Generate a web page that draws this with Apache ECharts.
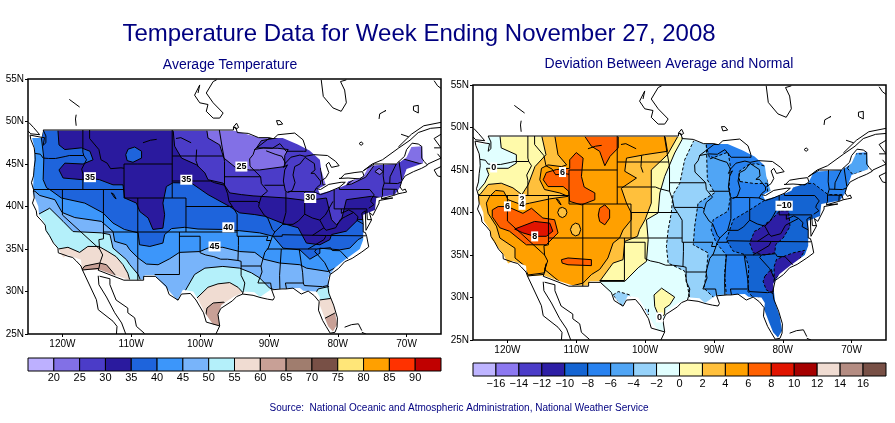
<!DOCTYPE html>
<html>
<head>
<meta charset="utf-8">
<style>html,body{margin:0;padding:0;background:#fff}#chart{width:895px;height:423px}</style>
<script src="https://cdn.jsdelivr.net/npm/echarts@6/dist/echarts.min.js"></script>
</head>
<body>
<div id="chart"></div>
<script>
// ---- axes and colour bars
var lonTicks = [-120, -110, -100, -90, -80, -70];
var avgLevels = [15, 20, 25, 30, 35, 40, 45, 50, 55, 60, 65, 70, 75, 80, 85, 90, 95];
var devLevels = [-18, -16, -14, -12, -10, -8, -6, -4, -2, 0, 2, 4, 6, 8, 10, 12, 14, 16, 18];
var avgColors = ['#bdb0ff', '#8270e6', '#4b3cc8', '#2a1a9e', '#1e64dc', '#3c96fa', '#78b4fa', '#b4f0fa', '#f0dcd2', '#c8a096', '#a07d6e', '#785046', '#ffe678', '#ffa000', '#ff3200', '#c00000'];
var devColors = ['#beb4ff', '#8c78f0', '#4b3cc8', '#2d1ea5', '#1464d2', '#2882f0', '#50a5f5', '#96d2fa', '#e1ffff', '#fffaaa', '#ffc03c', '#ffa000', '#ff6000', '#e11400', '#a50000', '#f0dcd2', '#b48c82', '#785046'];

// ---- land outline of the data grid, lon/lat, running counter-clockwise
var landEdge = [[-122.8,48.95],[-123.05,48.05],[-124.4,48.05],[-124,46.7],[-124.2,43.15],[-124.3,41.6],[-123.5,40],[-123.4,39],[-122.6,38.05],[-122.3,36.9],[-120.6,35.1],[-119.9,34],[-119.2,34.3],[-117.3,33.74],[-117.15,32.5],[-114.7,32.6],[-112.4,31.9],[-110.5,31.4],[-108.3,31.4],[-108.05,31.9],[-106.6,31.9],[-104.65,30.2],[-103.3,28.95],[-102.5,30.2],[-101,30],[-100.3,29.1],[-99.3,27.5],[-98.1,26.1],[-97.2,26],[-97.4,27.3],[-96.9,28.4],[-95.2,29.35],[-93.5,30],[-92.1,29.9],[-91.3,29.35],[-89.6,30.3],[-85.5,30.4],[-85,30.1],[-83.1,30],[-82.6,29.35],[-82.7,28.6],[-81.9,26.9],[-81.4,25.9],[-80.7,25.3],[-80.1,26.1],[-80.45,27.85],[-81.1,29.35],[-81.25,30.5],[-81.4,31.6],[-80.45,32.76],[-79,33.7],[-78,34.3],[-76.8,35],[-76.3,36.1],[-76.3,39.03],[-74.6,39.6],[-74.4,41],[-71.7,41.4],[-71,42.2],[-70.75,42.75],[-70,44.4],[-67.6,45.1],[-67.75,47.1],[-69.3,47],[-70,45.8],[-71,45.2],[-71.5,45],[-75.45,44.8],[-76.3,43.5],[-78.5,42.95],[-78.75,42.55],[-80.4,42],[-82.6,41.5],[-82.9,42.05],[-81.75,42.55],[-82.4,44.3],[-82.6,45.5],[-84.1,46.6],[-85.8,47.3],[-88,48.05],[-91.3,48.05],[-92.8,48.4],[-95,48.9],[-122.8,48.95]];

// ---- coasts, lakes
var coastLines = [
  [[-122.8,49],[-122.4,48.3],[-122.4,47.5],[-122.8,47.2],[-122.6,48.1],[-123.1,48.15],[-124.7,48.4],[-124.6,47.9],[-124.1,46.9],[-124,46.2],[-123.95,45.5],[-124.1,44.6],[-124.2,43.6],[-124.5,42.8],[-124.2,42],[-124.1,41],[-124.35,40.4],[-123.8,39.5],[-123.7,38.9],[-123,38.3],[-122.5,37.8],[-122.4,37.2],[-121.9,36.6],[-121.3,35.7],[-120.65,35.1],[-120.6,34.55],[-119.2,34.15],[-118.5,34],[-118,33.6],[-117.3,33],[-117.1,32.55],[-115.06,29.03],[-114.8,27.86],[-112.65,26.5],[-112.07,25.9],[-112.15,25]],
  [[-124.9,49.9],[-124.2,49.3],[-123.3,48.45],[-124.6,48.55],[-125,48.9]],
  [[-114.8,31.85],[-114.7,30.8],[-113.6,29.35],[-112.4,27.5],[-111.4,26.3],[-110.8,25]],
  [[-114.6,31.8],[-113.1,31.5],[-113.1,30.8],[-112.2,29],[-110.5,28.05],[-110.5,27.5],[-109.5,26.9],[-109.25,25.9],[-108.05,25.05]],
  [[-97.7,25],[-97.15,25.95],[-97.4,27.3],[-97,28],[-95.3,28.9],[-94.7,29.4],[-93.8,29.7],[-92.3,29.55],[-91.3,29.3],[-90.2,29.1],[-89.4,29],[-89.2,29.3],[-89.6,30.2],[-88.1,30.3],[-87.5,30.3],[-86.5,30.4],[-85.3,29.7],[-84.3,30.05],[-83.4,29.5],[-82.7,28.8],[-82.8,27.8],[-82.2,26.6],[-81.7,25.9],[-81.1,25.1],[-80.4,25.2],[-80.1,25.8],[-80.05,26.9],[-80.6,28.4],[-81.3,29.8],[-81.45,30.7],[-81.1,32],[-79.9,32.7],[-79,33.5],[-77.9,33.9],[-76.5,34.65],[-75.5,35.25],[-75.8,36.5],[-76,36.95],[-76.3,37],[-76.3,38],[-76.5,39.2],[-76,39.5],[-75.9,37.2],[-75.1,38.4],[-75.4,39.3],[-74.9,38.95],[-74,40.4],[-74,40.7],[-72,41],[-73.7,40.9],[-71.9,41.3],[-71.2,41.5],[-70.6,41.6],[-70,41.7],[-70.2,42.05],[-70.6,41.9],[-70.95,42.3],[-70.7,43],[-70.2,43.6],[-69,44.1],[-67.8,44.5],[-67,44.85],[-66.9,45],[-65,45.7],[-65.5,46.2]],
  [[-92.1,46.7],[-90,48],[-89.3,48],[-88.7,48.44],[-86.25,48.64],[-85.05,47.85],[-84.65,46.87],[-84.6,46.5],[-85,46.5],[-86.5,46.5],[-87.5,46.5],[-87.9,46.9],[-88.4,47.4],[-89.5,46.85],[-90.8,46.9],[-92.1,46.7]],
  [[-84.75,45.78],[-83.4,45.05],[-83.3,44.3],[-83.9,43.9],[-83.4,43.9],[-82.5,43],[-82.5,42.6],[-83.1,42.2],[-83.45,41.7],[-82.5,41.4],[-81.4,41.7],[-79.8,42.25],[-78.9,42.85],[-79.5,42.85],[-81.3,42.6],[-82.5,42],[-83.1,42.1]],
  [[-84.75,45.78],[-85.5,45],[-86.25,44.7],[-86.5,43.7],[-86.2,42.8],[-86.6,41.9],[-87.2,41.65],[-87.6,41.8],[-87.9,43],[-87.7,44.3],[-87.3,44.9],[-87.9,44.6],[-87.6,45.1],[-86.8,45.8],[-85.5,46.05],[-84.75,45.9],[-83.5,46.1],[-81.5,46],[-80.3,45.3],[-79.8,44.8],[-80.9,44.6],[-81.3,45.2],[-81.7,44.9],[-81.3,44],[-81.7,43.4],[-82.4,43]],
  [[-79.8,43.3],[-78.5,43.35],[-76.8,43.25],[-76.2,43.6],[-76.4,44.1],[-77.5,44],[-79,43.8],[-79.6,43.3],[-79.8,43.3]],
  [[-76.3,44.2],[-75,45],[-73.5,45.5],[-71.2,46.85],[-69.5,47.8],[-68.3,48.7],[-66.5,49.2],[-65,49.3]],
  [[-71.2,47],[-69.3,48.5],[-67.5,49.5],[-65,49.9]],
  [[-70.8,48.5],[-69.7,48.2]],
  [[-66,46.9],[-65,46.9],[-66,48],[-65,48.5]],
  [[-65,44.7],[-66,44.3],[-65.5,43.6],[-65,43.5]],
  [[-82.4,54.9],[-82.1,52.95],[-80.7,51.6],[-79.5,51.2],[-78.75,52.2],[-79,53.7],[-79.6,54.7],[-78.75,54.9]],
  [[-97.6,54.9],[-98.1,54.7],[-99.1,53.35],[-98.1,52.2],[-96.65,51],[-97.15,50.4],[-98.1,50.4],[-99.1,51.2],[-98.85,52],[-100.05,52.2],[-100.8,53.1],[-100.05,54.3],[-100.3,53.35]],
  [[-119,52.6],[-117.5,51.7]],
  [[-118,50.8],[-118.1,50.3],[-118,49.5]],
  [[-108.3,47.5],[-107.2,47.8],[-106.3,47.9]],
  [[-103.5,48],[-102.8,48.1],[-101.3,47.5]],
  [[-100.5,46.7],[-100.6,45.4],[-100.3,44.7]],
  [[-112.9,41.6],[-112.4,41],[-112.2,40.9],[-112.6,41.5],[-112.9,41.6]],
  [[-95.1,49.4],[-94.7,49.8],[-94.4,49.3],[-94.8,49.1],[-95.1,49.4]],
  [[-88.9,50.1],[-88.4,50.1],[-88,49.7],[-88.7,49.6],[-88.9,50.1]],
  [[-76.6,47.6],[-76.3,47.4],[-76.6,47.2],[-76.9,47.4],[-76.6,47.6]],
  [[-74,50.3],[-73.9,50.9],[-73,51.3],[-73.2,51.2]],
  [[-69,51.8],[-68.3,51.9],[-68.3,51],[-69,51.3],[-69,51.8]],
  [[-79,25.8],[-78,26.1],[-77,26.2],[-76.5,25.4]],
  [[-76.5,25.2],[-75.9,25]],
  [[-66,54.8],[-65.5,54.2],[-65,53.9]]
];

// ---- state and border lines
var stateLines = [
  [[-122.8,49],[-95.15,49],[-95.15,49.35],[-94.8,49.3],[-94.6,48.7],[-93,48.6],[-91.5,48.1],[-90,48.1],[-89.5,48]],
  [[-124,46.25],[-123.2,46.15],[-122.8,45.7],[-122,45.65],[-121,45.65],[-119.5,45.9],[-119,46],[-116.9,46]],
  [[-117.03,49],[-117.03,46.4],[-116.9,46],[-116.5,45.5],[-117.2,44.4],[-117.03,43.8],[-117.03,42]],
  [[-124.2,42],[-111.05,42]],
  [[-120,42],[-120,39],[-114.6,35],[-114.15,34.3],[-114.5,33.5],[-114.7,32.73]],
  [[-117.1,32.53],[-114.7,32.72],[-114.8,32.5],[-111.07,31.33],[-108.2,31.33],[-108.2,31.78],[-106.5,31.78],[-104.9,30.6],[-104.5,29.65],[-103.2,28.98],[-102.7,29.7],[-101.4,29.77],[-100.6,29],[-99.5,27.5],[-99.1,26.4],[-97.15,25.95]],
  [[-114.04,42],[-114.04,36.2],[-114.7,36.1],[-114.6,35]],
  [[-114.04,37],[-94.62,37]],
  [[-111.05,45],[-111.05,41],[-102.05,41]],
  [[-109.05,45],[-104.05,45]],
  [[-111.05,45],[-109.05,45]],
  [[-109.05,41],[-109.05,31.33]],
  [[-116.05,49],[-116.05,48],[-114.7,46.7],[-114.4,45.5],[-113.5,45.1],[-113,44.45],[-111.5,44.55],[-111.05,44.5]],
  [[-104.05,49],[-104.05,41]],
  [[-102.05,41],[-102.05,37]],
  [[-102.05,40],[-95.3,40]],
  [[-104.05,45.94],[-96.56,45.94]],
  [[-104.05,43],[-98.5,43],[-97.9,42.8],[-96.45,42.5]],
  [[-103,37],[-103,32],[-106.6,32]],
  [[-103,36.5],[-100,36.5],[-100,34.56],[-99.2,34.3],[-98,34.1],[-97,33.8],[-96,33.8],[-94.5,33.65],[-94.04,33.55],[-94.04,31.9],[-93.5,31],[-93.7,30.1],[-93.85,29.7]],
  [[-94.04,33],[-91.15,33]],
  [[-94.62,36.5],[-90.15,36.5],[-90.35,36],[-89.7,36]],
  [[-94.43,36.5],[-94.43,35.4],[-94.5,33.65]],
  [[-94.62,39.1],[-94.62,36.5]],
  [[-97.2,49],[-96.8,47],[-96.56,45.94],[-96.45,45.3],[-96.45,42.5],[-96,41.5],[-95.8,40.6],[-95.3,40],[-94.62,39.1]],
  [[-96.45,43.5],[-91.2,43.5]],
  [[-95.77,40.6],[-91.7,40.6],[-91.4,40.4]],
  [[-92.05,46.7],[-92.3,46.1],[-92.8,45.6],[-92.75,44.75],[-91.2,43.5],[-91.1,42.7],[-90.2,41.8],[-91.1,41.2],[-91.4,40.4],[-91.5,40],[-90.7,39],[-90.2,38.7],[-89.5,37.3],[-89.15,37],[-89.5,36.5],[-89.7,36],[-90.1,35.1],[-90.6,34.6],[-91.15,33],[-91,32.3],[-91.6,31],[-89.75,31],[-89.6,30.2]],
  [[-90.65,42.5],[-87.8,42.5]],
  [[-87.6,45.1],[-88.1,45.9],[-89.1,46.15],[-90.4,46.55]],
  [[-87.53,41.7],[-87.53,39.3],[-88,37.9]],
  [[-89.15,37],[-88,37.9],[-86.5,37.9],[-85.7,38.3],[-84.8,39.1],[-83.7,38.65],[-82.6,38.4],[-81.8,39],[-80.7,40.6]],
  [[-84.8,41.7],[-84.8,39.1]],
  [[-87.2,41.76],[-84.8,41.76],[-83.45,41.72]],
  [[-80.52,42],[-80.52,39.72],[-75.79,39.72]],
  [[-79.76,42.27],[-79.76,42],[-75.35,42],[-74.7,41.36],[-75.1,40.9],[-75.2,40.6],[-74.75,40.2],[-75.5,39.8]],
  [[-79.48,39.72],[-79.48,39.2],[-78.4,39.6],[-77.7,39.3],[-78.9,38.8],[-79.6,38.5],[-80.3,37.5],[-81.7,37.2],[-82,37.5],[-83.68,36.6]],
  [[-82.6,38.4],[-82,37.5]],
  [[-75.9,36.55],[-81.68,36.59],[-88.07,36.68],[-88.07,36.5],[-89.45,36.5]],
  [[-81.68,36.59],[-82,36.1],[-84.32,35]],
  [[-90.3,35],[-83.1,35],[-81.04,35.15],[-80.8,34.82],[-79.67,34.8],[-78.55,33.86]],
  [[-83.1,35],[-83.35,34.7],[-81.9,33.4],[-81.1,32.1]],
  [[-81.45,30.7],[-82.2,30.57],[-84.86,30.7],[-85,31],[-85.1,32.2],[-85.6,34.98]],
  [[-85,31],[-87.6,31],[-87.45,30.3]],
  [[-88.2,35],[-88.45,31.9],[-88.4,30.3]],
  [[-75.79,39.72],[-75.7,38.46],[-75.05,38.45]],
  [[-77.7,39.3],[-77.05,38.8],[-77.2,38.35],[-76.3,37.95]],
  [[-73.35,45],[-73.4,43.6],[-73.25,42.75],[-73.5,42.05],[-73.5,41.3],[-73.65,41]],
  [[-71.5,45],[-72.4,43.5],[-72.45,42.73]],
  [[-73.25,42.75],[-71.3,42.7],[-70.8,42.87]],
  [[-73.5,42.05],[-71.4,42.02],[-71.2,41.5]],
  [[-71.8,42],[-71.85,41.3]],
  [[-71.1,45.3],[-70.7,43.1]],
  [[-76.3,44.2],[-74.7,45],[-71.5,45],[-71.1,45.3],[-70.3,45.9],[-70,46.7],[-69.2,47.45],[-68.3,47.35],[-67.8,47.07],[-67.8,45.7],[-67.45,45.3],[-67,44.9]]
];

// ---- average temperature contour regions, lon/lat
var avgBase = [[-125,50],[-65,50],[-65,25],[-125,25]];
var avgWarmSW = [[-120.6,35],[-119.2,35.2],[-117.5,34.6],[-116.3,35.3],[-114.7,35.3],[-113.4,34.7],[-112.2,34.1],[-111.2,33.15],[-110.5,32.15],[-110.2,31.3],[-110.7,29.4],[-118,29.4],[-121.1,33.7]];
var avgHotSW = [[-117.15,32.6],[-116.75,33],[-114.6,33.35],[-113.6,33.15],[-112.4,32],[-112.4,30.2],[-117.2,30.2]];
var avgWarmTX = [[-100.5,29.2],[-98.85,30.5],[-97.4,30.9],[-95.7,31.05],[-94.5,30.5],[-93.7,29.8],[-94.3,28.2],[-96,26],[-100.5,26]];
var avgHotTX = [[-99.3,26.5],[-99,28.05],[-98.1,28.65],[-96.55,28.75],[-95.7,27.9],[-96,25.2],[-99,25.2]];
var avgWarmFL = [[-83.1,28.95],[-80.9,29.2],[-79,29.2],[-79,25],[-84,25]];
var avgHotFL = [[-82.1,26.75],[-80.45,27.45],[-79,27.45],[-79,25],[-82.1,25]];
var avgBelow50 = [[-125,39.05],[-123.55,39.05],[-121.85,39.8],[-119.9,38.25],[-118.45,37.05],[-114.35,36.9],[-113.1,36.7],[-112.65,35.1],[-110.7,33.75],[-110.2,33.15],[-109,32],[-108.5,31],[-104,28.5],[-102.5,29.6],[-100.8,32],[-99.3,32.75],[-96.7,32.95],[-94.25,32.75],[-92.55,32.2],[-91.35,31.6],[-89.9,30.4],[-88.4,30],[-83.35,29.6],[-82.85,30.3],[-81.2,30.6],[-77.8,30.6],[-66,30.6],[-66,49.5],[-125,49.5]];
var avgBelow45 = [[-125,41.8],[-124,41.8],[-123.3,41.3],[-121.1,40.8],[-120.05,39.3],[-118.2,38.7],[-114.35,38.25],[-112.65,37.05],[-112.4,35.9],[-110.7,35.5],[-110.2,34.9],[-109,33.94],[-107.8,33.23],[-106.1,33.15],[-104.4,33.86],[-103,34.6],[-100.05,34.7],[-98.6,35.2],[-96.7,35.2],[-94.25,34.7],[-92.05,34.6],[-90.75,33.8],[-88.45,33.35],[-85.5,33.15],[-84.55,32.75],[-81.4,32.35],[-80.45,32.75],[-78,32.7],[-66,32.7],[-66,49.5],[-125,49.5]];
var avgBelow40 = [[-122.8,49.5],[-122.8,49],[-123.05,48.05],[-122.7,45.7],[-122.8,43.15],[-122.3,42.2],[-121.85,42],[-120.15,41],[-116.75,40.4],[-114.1,39.25],[-112.65,38.05],[-111,37.3],[-109,36.9],[-108.8,35.5],[-107.3,35.3],[-105.4,35.7],[-105.15,36.7],[-104.15,37.4],[-102.25,37.55],[-100.3,37.35],[-96.7,37.3],[-94.25,37.15],[-91.35,36.9],[-89.4,36.5],[-87.95,35.1],[-85.5,34.9],[-84.05,33.8],[-82.6,34.5],[-82.6,35.1],[-79.7,34.9],[-78.25,35.1],[-77.05,36.1],[-75,37],[-66,37],[-66,49.5]];
var avgBelow35 = [[-120.65,49.5],[-120.65,48.95],[-120.5,47.25],[-119.65,46.7],[-117.25,46.9],[-116,46.5],[-115.55,45.5],[-117,45],[-119.65,45.1],[-120.5,44.3],[-119.9,43.35],[-117,43.15],[-116,43.35],[-114.6,43.15],[-112.65,42.55],[-111.2,42.55],[-110.95,41],[-109.25,40.4],[-108.75,39.4],[-107.55,38.65],[-106.85,37.3],[-105.4,37.45],[-105.15,39.03],[-105.4,40.4],[-104.9,42.35],[-103.9,42.8],[-101.25,42.75],[-98.85,41.4],[-95.7,40],[-94.25,39.25],[-92.05,39.05],[-90.6,38.85],[-87.95,38],[-85.75,37.5],[-84.55,35.7],[-82.6,35.5],[-81.15,36.1],[-80.9,36.7],[-78.75,37.1],[-77.05,38.45],[-75,38.5],[-66,38.5],[-66,49.5]];
var avgIsland40 = [[-110.8,46.1],[-110.45,46.75],[-109.5,47],[-108.5,46.5],[-108.5,45.7],[-109.75,45.2],[-110.6,45.4]];
var avgBelow30 = [[-103.9,49.5],[-103.9,48.85],[-103.7,47.1],[-102.7,45.7],[-100.5,44.9],[-99.3,43.95],[-98.85,43.15],[-96.65,42.75],[-95.7,41.6],[-94,41.4],[-92.3,41.25],[-87.45,41],[-84.55,40.7],[-81.65,41],[-81.25,39.6],[-80.9,38.45],[-80.2,37.85],[-79.45,38.45],[-78.75,40.8],[-75.1,41.2],[-73.4,41],[-66,41],[-66,49.5]];
var avgBelow25 = [[-99.1,49.4],[-98.85,48.05],[-97.15,47.25],[-96.55,45.7],[-94.7,44.5],[-92.8,44.3],[-91.35,44.3],[-87.7,44.7],[-87.7,46],[-87.2,46.7],[-88.7,46.85],[-91.8,46.9],[-91.1,47.75],[-88.7,48.1],[-88.7,49.4]];
var avgMaine25 = [[-70.5,45.6],[-69.55,47.25],[-67.1,47.25],[-67.1,44.9],[-68.1,45.05]];
var avgAdirondack25 = [[-74.6,44.1],[-74,44.5],[-73.4,44.1],[-73.9,43.75]];
var avgHuron25 = [[-82.5,44.5],[-81.65,44.5],[-81.65,42.55],[-82.15,42.55]];
var avgOntario25 = [[-78.75,42.55],[-76.3,43.95],[-75.35,45.1],[-74.75,44.8],[-75.95,43.45],[-78,42.65]];
// [colour box, region] painted in this order
var avgBands = [[7,avgBase],[8,avgWarmSW],[9,avgHotSW],[8,avgWarmTX],[9,avgHotTX],[8,avgWarmFL],[9,avgHotFL],[6,avgBelow50],[5,avgBelow45],[4,avgBelow40],[3,avgBelow35],[4,avgIsland40],[2,avgBelow30],[1,avgBelow25],[1,avgMaine25],[1,avgAdirondack25],[1,avgHuron25],[1,avgOntario25]];

// ---- deviation contour regions, lon/lat
var devBase = [[-125,50],[-65,50],[-65,25],[-125,25]];
var devAbove0 = [[-121.1,49.15],[-120.9,47.6],[-118.7,46.8],[-118.7,45.8],[-119.9,45.2],[-123.05,45.2],[-122.7,44.45],[-123.3,43.45],[-124.3,42.5],[-125,42.3],[-125,28],[-106,28],[-105.4,30.7],[-106.6,31.9],[-102.95,31.9],[-101,33.5],[-99.8,34.25],[-99.55,36.8],[-99.8,39.15],[-98.1,39.95],[-97.85,42.3],[-97.15,44.25],[-95.7,47],[-94.65,48.55],[-94.5,49.15]];
var devIslandTX = [[-98.7,30.3],[-97.6,31.1],[-97.15,30.85],[-95.7,30.05],[-96.4,29.15],[-97.15,28.75],[-97.15,28],[-97.9,27.6],[-98.6,28.95]];
var devAbove2 = [[-115.05,49.15],[-114.4,46.8],[-116,45.4],[-117,43.25],[-117.9,42.1],[-119.2,42.9],[-120.9,43.45],[-122.8,43.3],[-124,42.1],[-124.5,42.1],[-125,40],[-125,27],[-106.6,27],[-106.6,31.9],[-104.65,34.05],[-103.2,34.45],[-102.95,36.6],[-101.1,37.2],[-100.8,38],[-100,39.15],[-99.1,41.1],[-99.1,45],[-96.75,46.8],[-95.1,49.15]];
var devAbove4 = [[-113.1,49.15],[-97.15,49.15],[-96.75,47.2],[-100.05,46.8],[-102.7,46.4],[-102.95,44.85],[-101.25,44.05],[-103.45,42.85],[-102.7,41.1],[-102,39.95],[-102,39.15],[-103.2,37.95],[-103.7,37],[-104.65,36.4],[-105.4,34.65],[-106.6,33.3],[-107.8,32.7],[-109,31.7],[-111.4,31.2],[-113.1,32.3],[-114.6,33.3],[-114.35,34],[-114.6,32.9],[-117,32.65],[-117.7,33.85],[-118.9,34.65],[-118.9,35.8],[-121.1,37],[-121.6,38.4],[-122.8,39.9],[-123.06,41.1],[-122.58,41.9],[-121.7,42.6],[-120.55,42.5],[-119.9,41.5],[-117.88,40.9],[-116.76,41.1],[-113.86,41.6],[-111.2,41.9],[-112.4,42.3],[-114.6,42.7],[-115.3,43.85],[-115.05,45.2],[-114.1,45.6],[-112.15,45.4],[-111.4,45.6],[-112.65,46.8],[-113.1,48.95]];
var devRing2A = [[-112.7,40],[-112.45,40.5],[-112,40.6],[-111.5,40.4],[-111.35,40],[-111.55,39.6],[-112,39.4],[-112.45,39.55]];
var devRing2B = [[-110.85,38],[-110.6,38.5],[-110.1,38.75],[-109.6,38.6],[-109.35,38],[-109.6,37.4],[-110.1,37.25],[-110.6,37.45]];
var devAbove6N = [[-108.75,49.15],[-108.75,48.95],[-107.8,47.8],[-106.6,47.2],[-105.85,45.5],[-105.1,46.6],[-103.9,47.6],[-103.9,49.15]];
var devAbove6C = [[-114.8,43.85],[-114.35,44.7],[-112.9,45.05],[-110.95,45.2],[-110.95,46.2],[-110,47.05],[-109,46.4],[-109.25,44.25],[-108.85,43],[-107.3,42.3],[-107.3,41.5],[-109.25,40.9],[-110.95,41.3],[-111.1,42.5],[-111.9,43.05],[-114.1,43.05]];
var devAbove6O = [[-106.8,39.7],[-106.6,40.5],[-105.85,40.9],[-105.15,40.3],[-105.15,39.35],[-105.85,38.55],[-106.6,38.95]];
var devAbove6S = [[-122.2,40.3],[-121.35,40.7],[-120,40.7],[-117.75,39.9],[-116.5,40.5],[-114.85,39.35],[-113.15,39.15],[-112.65,37.6],[-114.35,36.2],[-117.25,36.2],[-119.7,37.8],[-121.1,38.2],[-122.2,39.5]];
var devAbove6A = [[-112.15,34.45],[-111.2,34.65],[-107.8,34.45],[-107.8,33.75],[-111.2,33.85],[-112.05,34.05]];
var devAbove8 = [[-118.95,38.05],[-116.05,38.95],[-113.85,38.75],[-113.4,37.8],[-114.35,37.2],[-116.05,37.2],[-117.75,37.6]];
var devPatchA = [[-104.65,30.3],[-103.9,30.7],[-102.2,30.3],[-102,29.7],[-103.2,29],[-103.9,29.4]];
var devPatchB = [[-100.3,28.6],[-99.5,28.6],[-99.5,28],[-100,28]];
var devBelow2 = [[-92.9,49.15],[-92.9,48.5],[-94.25,46.2],[-94.95,43.45],[-95.95,42.1],[-96.2,39.9],[-96.65,37.95],[-96.9,36],[-96.65,34.05],[-94.25,33.1],[-93.5,29.9],[-93.5,28.9],[-87,27],[-84,25.1],[-66,25.1],[-66,49.15]];
var devBelow4 = [[-91.1,49.15],[-91.1,47.95],[-90.95,43.85],[-89.9,42.3],[-92.3,41.1],[-92.8,38.35],[-93,36.2],[-90.85,35.25],[-91.1,32.85],[-91.45,31.1],[-89.9,29.9],[-89.9,28.9],[-87,27],[-84,25.1],[-66,25.1],[-66,49.15]];
var devBelow6 = [[-91.1,49.15],[-91.1,47.8],[-90.6,46.3],[-87.95,47.1],[-87.6,45.45],[-87.8,43.1],[-87.6,41.9],[-87.95,40.15],[-90.1,39.15],[-90.4,37.95],[-89.65,36.4],[-88.2,35],[-88.45,32.85],[-88.2,30.3],[-87.95,29.35],[-84,25.1],[-66,25.1],[-66,49.15]];
var devMichigan4 = [[-86.25,43.65],[-86.4,44.8],[-85.05,45.6],[-83.85,45.75],[-82.15,45.35],[-81.9,43.45],[-84.05,43.4]];
var devMaine4 = [[-70.6,45.2],[-69.45,46.9],[-67.1,46.9],[-67.1,44.85],[-68.55,44.85],[-69.8,44.45]];
var devHuron4 = [[-82.2,44.5],[-81.6,44.5],[-81.6,42.5],[-82.2,42.5]];
var devBelow8 = [[-66,42.1],[-66,25.1],[-83.5,25.1],[-83.5,30],[-84.05,29.75],[-85.05,30.7],[-84.95,33.65],[-85.5,35.05],[-87.2,35.45],[-88.2,36.8],[-87.7,37.95],[-87.2,39.15],[-84.8,40.3],[-82.6,41.45],[-80.45,42.1],[-78.75,43],[-76.3,43.4],[-75.6,43.45],[-73.4,42.1],[-71,42.1],[-69.55,42.1]];
var devBelow10A = [[-83.6,37.97],[-81.4,39.35],[-80.45,40.2],[-79.15,40.2],[-78.95,38.35],[-79.95,37],[-81.05,36.2],[-81.15,35.25],[-82.6,35],[-84.3,35.25],[-84.8,36.4],[-84.1,37.8]];
var devBelow10B = [[-81.25,33.65],[-80.9,34.5],[-78.5,35.25],[-76.8,35.55],[-77.75,34.25],[-80.7,32.5],[-81.25,32]];
var devBelow10C = [[-82.6,32.5],[-81.65,33.35],[-81.25,32.1],[-81.4,30.45],[-82.4,30.9],[-82.85,31.9]];
// [colour box, region, dashed] painted in this order
var devBands = [[8,devBase,0],[9,devAbove0,0],[9,devIslandTX,0],[10,devAbove2,0],[11,devAbove4,0],[10,devRing2A,0],[10,devRing2B,0],[12,devAbove6N,0],[12,devAbove6C,0],[12,devAbove6O,0],[12,devAbove6S,0],[12,devAbove6A,0],[13,devAbove8,0],[7,devPatchA,1],[7,devPatchB,1],[7,devBelow2,1],[6,devBelow4,1],[5,devBelow6,1],[6,devMichigan4,1],[6,devMaine4,1],[6,devHuron4,1],[4,devBelow8,1],[3,devBelow10A,1],[3,devBelow10B,1],[3,devBelow10C,1]];

// ---- contour labels: lon, lat, text
var avgLabels = [[-116,43.45,'35'],[-102,43.15,'35'],[-94,44.7,'25'],[-84,41,'30'],[-95.9,37.55,'40'],[-97.9,35.3,'45']];
var devLabels = [[-112,44.76,'6'],[-117.88,41.58,'2'],[-117.88,40.9,'4'],[-120,40.72,'6'],[-116.04,37.19,'8'],[-122,45.3,'0'],[-97.9,27.65,'0'],[-79.8,40.8,'−10']];

var FONT = '"Liberation Sans", Arial, sans-serif';

function polyItem(pts, api, style) {
  return {
    type: 'polygon',
    shape: { points: pts.map(function(p) { return api.coord(p); }) },
    style: style
  };
}

function mapAxes(gridIndex) {
  return {
    x: {
      type: 'value', gridIndex: gridIndex, min: -125, max: -65, interval: 5,
      splitLine: { show: false },
      axisLine: { show: false },
      axisTick: { show: true, length: 3, lineStyle: { color: '#000' }, customValues: lonTicks },
      axisLabel: {
        color: '#000', fontSize: 10, fontFamily: FONT, margin: 5, customValues: lonTicks,
        formatter: function(v) { return Math.abs(v) + 'W'; }
      }
    },
    y: {
      type: 'value', gridIndex: gridIndex, min: 25, max: 55, interval: 5,
      splitLine: { show: false },
      axisLine: { show: false },
      axisTick: { show: true, length: 3, lineStyle: { color: '#000' } },
      axisLabel: {
        color: '#000', fontSize: 10, fontFamily: FONT, margin: 4,
        formatter: function(v) { return v + 'N'; }
      }
    }
  };
}

function barAxes(gridIndex, levels, labelMargin) {
  return {
    x: {
      type: 'value', gridIndex: gridIndex, min: levels[0], max: levels[levels.length - 1],
      interval: levels[1] - levels[0],
      splitLine: { show: false }, axisLine: { show: false }, axisTick: { show: false },
      axisLabel: {
        color: '#000', fontSize: 11, fontFamily: FONT, margin: labelMargin,
        showMinLabel: false, showMaxLabel: false,
        formatter: function(v) { return String(v).replace('-', '−'); }
      }
    },
    y: { type: 'value', gridIndex: gridIndex, min: 0, max: 1, show: false }
  };
}

function mapSeries(gridIndex, bands, colors, labels) {
  var axis = { xAxisIndex: gridIndex, yAxisIndex: gridIndex, coordinateSystem: 'cartesian2d', silent: true, animation: false };
  var mask = [[-125,55],[-65,55],[-65,25],[-125,25],[-125,48.95]].concat(landEdge, [[-125,48.95]]);
  var allLines = coastLines.concat(stateLines);
  return [
    Object.assign({
      type: 'custom', clip: true, z: 2,
      data: bands.map(function(b, i) { return [i]; }),
      renderItem: function(params, api) {
        var b = bands[params.dataIndex];
        return polyItem(b[1], api, { fill: colors[b[0]], stroke: '#000', lineWidth: 1, lineDash: b[2] ? [3, 2] : null });
      }
    }, axis),
    Object.assign({
      type: 'custom', clip: true, z: 3, data: [[0]],
      renderItem: function(params, api) {
        return polyItem(mask, api, { fill: '#fff', stroke: null });
      }
    }, axis),
    Object.assign({
      type: 'custom', clip: true, z: 4,
      data: allLines.map(function(l, i) { return [i]; }),
      renderItem: function(params, api) {
        return {
          type: 'polyline',
          shape: { points: allLines[params.dataIndex].map(function(p) { return api.coord(p); }) },
          style: { fill: null, stroke: '#000', lineWidth: 1 }
        };
      }
    }, axis),
    Object.assign({
      type: 'custom', clip: false, z: 5, data: [[0]],
      renderItem: function(params, api) {
        return polyItem([[-125,55],[-65,55],[-65,25],[-125,25]], api, { fill: null, stroke: '#000', lineWidth: 1.5 });
      }
    }, axis),
    Object.assign({
      type: 'scatter', z: 6, symbolSize: 0,
      itemStyle: { opacity: 1 },
      data: labels,
      label: {
        show: true, position: 'inside', color: '#000', fontSize: 9, fontFamily: FONT, fontWeight: 'bold', opacity: 1,
        backgroundColor: '#fff', padding: [1, 1, 0, 1],
        formatter: function(p) { return p.value[2]; }
      }
    }, axis)
  ];
}

function barSeries(gridIndex, levels, colors) {
  return {
    type: 'custom', xAxisIndex: gridIndex, yAxisIndex: gridIndex, coordinateSystem: 'cartesian2d',
    silent: true, animation: false, clip: false, z: 2,
    data: colors.map(function(c, i) { return [levels[i]]; }),
    renderItem: function(params, api) {
      var i = params.dataIndex;
      return polyItem([[levels[i],1],[levels[i + 1],1],[levels[i + 1],0],[levels[i],0]], api, { fill: colors[i], stroke: '#000', lineWidth: 1 });
    }
  };
}

var mapL = mapAxes(0), mapR = mapAxes(1), barL = barAxes(2, avgLevels, 1), barR = barAxes(3, devLevels, 2);

var option = {
  animation: false,
  backgroundColor: '#fff',
  title: [
    { text: 'Temperature Data for Week Ending November 27, 2008', left: 414, top: 17, textAlign: 'center', textStyle: { color: '#000080', fontSize: 24, fontWeight: 'normal', fontFamily: FONT } },
    { text: 'Average Temperature', left: 225, top: 53, textAlign: 'center', textStyle: { color: '#000080', fontSize: 14, fontWeight: 'normal', fontFamily: FONT } },
    { text: 'Deviation Between Average and Normal', left: 664, top: 52, textAlign: 'center', textStyle: { color: '#000080', fontSize: 14, fontWeight: 'normal', fontFamily: FONT } },
    { text: 'Source:  National Oceanic and Atmospheric Administration, National Weather Service', left: 454, top: 398, textAlign: 'center', textStyle: { color: '#000080', fontSize: 10, fontWeight: 'normal', fontFamily: FONT } }
  ],
  grid: [
    { left: 28, top: 79, width: 413, height: 255 },
    { left: 473, top: 85, width: 413, height: 255 },
    { left: 28, top: 358, width: 413, height: 13 },
    { left: 473, top: 363, width: 413, height: 13 }
  ],
  xAxis: [mapL.x, mapR.x, barL.x, barR.x],
  yAxis: [mapL.y, mapR.y, barL.y, barR.y],
  series: mapSeries(0, avgBands.map(function(b) { return [b[0], b[1], 0]; }), avgColors, avgLabels)
    .concat(mapSeries(1, devBands, devColors, devLabels))
    .concat([barSeries(2, avgLevels, avgColors), barSeries(3, devLevels, devColors)])
};

var chart = echarts.init(document.getElementById('chart'));
chart.setOption(option);
</script>
</body>
</html>
